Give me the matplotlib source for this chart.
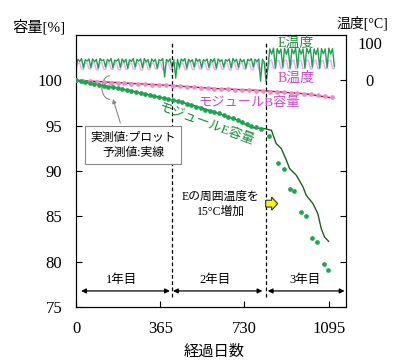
import matplotlib
matplotlib.use('Agg')
import matplotlib.pyplot as plt
from matplotlib.patches import Arc, FancyArrow

plt.rcParams['font.family'] = ['Liberation Serif', 'Noto Sans CJK JP']

# capacity of module E (measured, plot)
e_days = [0, 20, 40, 60, 80, 100, 120, 140, 160, 180, 200, 220, 240, 260, 280, 300,
          320, 340, 360, 380, 400, 420, 440, 460, 480, 500, 520, 540, 560, 580, 600,
          620, 640, 660, 680, 700, 720, 740, 760, 780, 800,
          836, 875, 903, 926, 945, 974, 995, 1022, 1044, 1073, 1093]
e_cap = [100.0, 99.9, 99.8, 99.7, 99.6, 99.47, 99.38, 99.3, 99.22, 99.12, 99.03, 98.95,
         98.85, 98.74, 98.62, 98.5, 98.38, 98.22, 98.12, 98.05, 97.95, 97.86, 97.76,
         97.6, 97.42, 97.26, 97.1, 96.9, 96.78, 96.62, 96.48, 96.35, 96.2, 96.0, 95.8,
         95.62, 95.42, 95.22, 95.0, 94.82, 94.6,
         93.83, 90.93, 90.26, 88.02, 87.8, 85.52, 85.04, 82.61, 82.17, 79.75, 79.13]

# capacity of module E (predicted, line)
e_pred_days = [0, 100, 200, 300, 360, 400, 500, 600, 700, 760, 818, 847, 868, 890,
               912, 926, 955, 984, 998, 1027, 1048, 1063, 1077, 1095]
e_pred = [100.0, 99.5, 99.05, 98.5, 98.15, 97.95, 97.3, 96.5, 95.6, 94.8, 94.67, 94.49,
          93.02, 92.47, 91.18, 90.26, 89.53, 88.24, 87.32, 86.41, 85.3, 83.65, 82.72, 82.25]

# capacity of module B (measured, plot)
b_days = [0, 30, 60, 90, 120, 150, 180, 210, 240, 270, 300, 330, 360, 390, 420, 450,
          480, 510, 540, 570, 600, 630, 660, 690, 720, 750, 780, 810, 840, 870, 900,
          930, 960, 990, 1020, 1050, 1080, 1110]
b_cap = [100.0, 99.95, 99.9, 99.85, 99.8, 99.75, 99.7, 99.66, 99.62, 99.58, 99.55,
         99.5, 99.47, 99.44, 99.4, 99.35, 99.3, 99.24, 99.18, 99.12, 99.08, 99.05,
         99.02, 98.99, 98.95, 98.92, 98.88, 98.85, 98.75, 98.7, 98.68, 98.62, 98.55,
         98.5, 98.47, 98.42, 98.3, 98.15]

# capacity of module B (predicted, line)
b_pred_days = [0, 200, 400, 600, 800, 1000, 1100]
b_pred = [100.0, 99.72, 99.45, 99.1, 98.88, 98.5, 98.1]

# temperatures, sampled every 8 days
temp_days = list(range(0, 1128, 8))
e_temp = [36, 56, 50, 58, 33, 55, 51, 57,
          34, 57, 49, 56, 32, 58, 52, 55,
          35, 56, 50, 58, 33, 54, 51, 57,
          34, 57, 48, 56, 32, 55, 50, 58,
          35, 56, 51, 57, 33, 58, 49, 55,
          34, 57, 50, 56, 32, 55, 52, 58,
          8, 56, 50, 57, 33, 55, 5, 56,
          34, 57, 51, 58, 32, 56, 49, 55,
          35, 58, 50, 56, 33, 55, 51, 57,
          34, 56, 49, 58, 32, 57, 50, 55,
          35, 55, 51, 57, 33, 58, 50, 56,
          34, 57, 49, 55, 32, 56, 52, 58,
          35, 56, 50, 57, -3, 56, 48, -5,
          34, 84, 70, 86, 33, 85, 72, 84,
          35, 86, 69, 85, 32, 84, 71, 86,
          34, 85, 70, 84, 33, 86, 72, 85,
          35, 84, 69, 86, 32, 85, 71, 84,
          34, 86, 70, 85, 36]
b_temp = [28, 45, 47, 29, 28, 46, 46, 30,
          29, 47, 45, 28, 27, 46, 47, 29,
          28, 45, 46, 30, 29, 47, 45, 28,
          27, 46, 47, 29, 28, 45, 46, 30,
          29, 47, 45, 28, 27, 46, 47, 29,
          28, 45, 46, 30, 29, 47, 45, 28,
          27, 46, 47, 29, 28, 45, 46, 30,
          29, 47, 45, 28, 27, 46, 47, 29,
          28, 45, 46, 30, 29, 47, 45, 28,
          27, 46, 47, 29, 28, 45, 46, 30,
          29, 47, 45, 28, 27, 46, 47, 29,
          28, 45, 46, 30, 29, 47, 45, 28,
          27, 46, 47, 29, 28, 45, 46, 30,
          30, 52, 54, 31, 30, 53, 52, 31,
          31, 54, 53, 30, 30, 52, 54, 31,
          30, 53, 52, 31, 31, 54, 53, 30,
          30, 52, 54, 31, 30, 53, 52, 31,
          31, 54, 53, 30, 31]

year_bounds = [414, 822]
xticks = [0, 365, 730, 1095]
yticks = [75, 80, 85, 90, 95, 100]

fig = plt.figure(figsize=(3.94, 3.61), dpi=100)
ax = fig.add_axes([0.193, 0.1496, 0.685, 0.7534])
ax2 = ax.twinx()

# temperatures on right axis
ax2.plot(temp_days, b_temp, color='#e0b0ef', lw=1.0)
ax2.plot(temp_days, e_temp, color='#22a050', lw=1.0)
ax2.set_ylim(-613.5, 121.6)
ax2.set_yticks([0, 100])
ax2.set_yticklabels(['0', '100'])
ax2.tick_params(axis='y', length=0, pad=17, labelsize=12)
for lab in ax2.get_yticklabels():
    lab.set_horizontalalignment('center')

# capacities
ax.plot(b_pred_days, b_pred, color='#a81818', lw=1.0, zorder=3)
ax.plot(b_days, b_cap, 'o', color='#f08ad0', ms=3.4, mec='none', zorder=4)
ax.plot(e_pred_days, e_pred, color='#1f5f1f', lw=1.0, zorder=3)
ax.plot(e_days, e_cap, 'o', color='#1ea550', ms=3.4, mec='none', zorder=4)

ax.set_xlim(0, 1170)
ax.set_ylim(75, 105)
ax.set_xticks(xticks)
ax.set_yticks(yticks)
ax.tick_params(direction='in', length=4, labelsize=12, pad=10)
ax.tick_params(axis='y', right=True)
ax.set_zorder(ax2.get_zorder() + 1)
ax.patch.set_visible(False)

for d in year_bounds:
    ax.axvline(d, ymin=0.037, ymax=0.974, color='black', lw=0.9, ls=(0, (3, 2)))

# year arrows
arrow_y = 76.77
for x0, x1 in [(22, 407), (420, 808), (831, 1164)]:
    ax.annotate('', xy=(x1, arrow_y), xytext=(x0, arrow_y),
                arrowprops=dict(arrowstyle='<|-|>', color='black', lw=0.9,
                                mutation_scale=7, shrinkA=0, shrinkB=0))
for x, lab in [(199, '1年目'), (601, '2年目'), (991, '3年目')]:
    ax.text(x, 77.95, lab, ha='center', va='center', fontsize=9)

# labels
ax.text(950, 104.08, 'E温度', color='#1e8c3c', ha='center', va='center', fontsize=10)
ax.text(952, 100.22, 'B温度', color='#d048c8', ha='center', va='center', fontsize=10)
ax.text(749, 97.46, 'モジュールB容量', color='#d048c8', ha='center', va='center',
        fontsize=9.5)
ax.text(565, 95.1, 'モジュールE容量', color='#1e8c3c', ha='center', va='center',
        fontsize=9.5, rotation=-20, rotation_mode='anchor')
ax.text(247, 92.83, '実測値:プロット\n予測値:実線', ha='center', va='center',
        fontsize=8.5, linespacing=1.35,
        bbox=dict(boxstyle='square,pad=0.45', fc='white', ec='#888888', lw=0.8))
ax.text(627, 86.3, 'Eの周囲温度を\n15°C増加', ha='center', va='center',
        fontsize=8.5, linespacing=1.3)

# circle marking the measured curves
ax.add_patch(Arc((147, 99.2), 70, 2.6, theta1=55, theta2=305, color='#888888', lw=0.8))
ax.annotate('', xy=(160, 97.95), xytext=(192, 95.3),
            arrowprops=dict(arrowstyle='-|>', color='#888888', lw=0.8,
                            mutation_scale=6, shrinkA=0, shrinkB=0))

# yellow arrow
ax.add_patch(FancyArrow(822, 86.4, 52, 0, width=0.75, head_width=1.45, head_length=26,
                        length_includes_head=True, fc='#fff200', ec='#333333', lw=0.8,
                        zorder=5))

fig.text(0.099, 0.925, '容量[%]', ha='center', va='center', fontsize=11)
fig.text(0.919, 0.936, '温度[°C]', ha='center', va='center', fontsize=10)
fig.text(0.543, 0.025, '経過日数', ha='center', va='center', fontsize=11)

fig.savefig('out.png', dpi=100)
